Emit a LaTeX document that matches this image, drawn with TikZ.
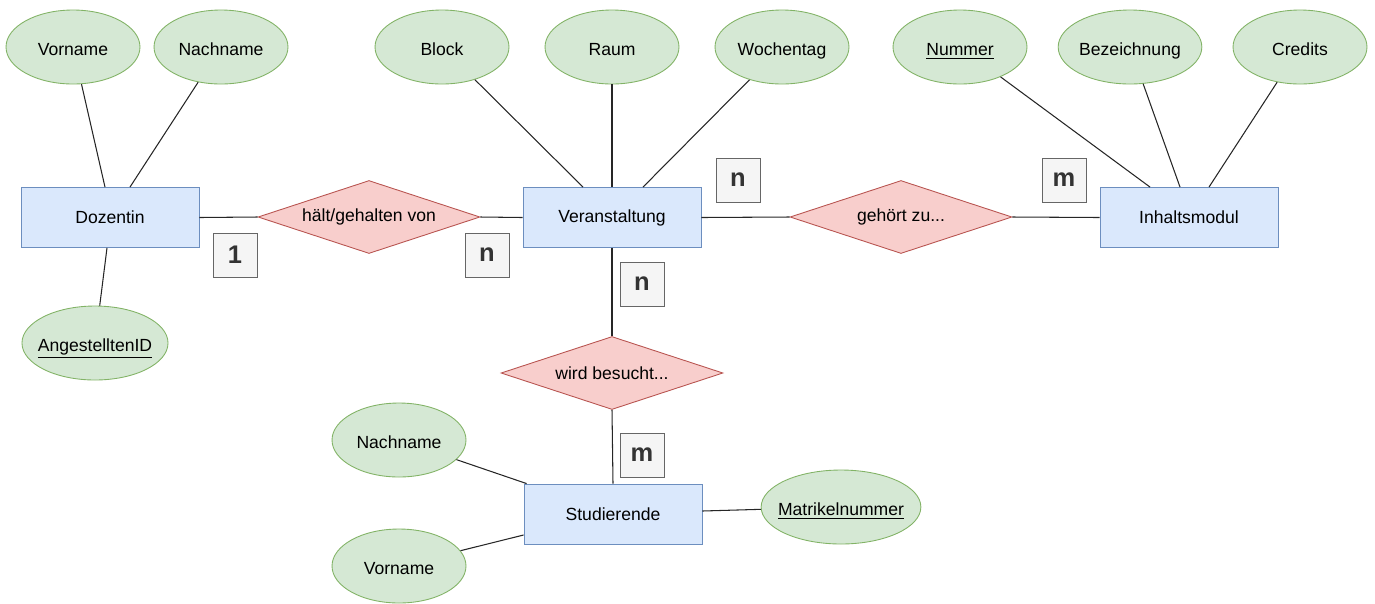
\documentclass[tikz,border=0pt]{standalone}
\usepackage{fontspec}
\setmainfont{Liberation Sans}
\usetikzlibrary{shapes.geometric}

\definecolor{entfill}{HTML}{DAE8FC}
\definecolor{entdraw}{HTML}{6C8EBF}
\definecolor{relfill}{HTML}{F8CECC}
\definecolor{reldraw}{HTML}{B85450}
\definecolor{attfill}{HTML}{D5E8D4}
\definecolor{attdraw}{HTML}{82B366}
\definecolor{cardfill}{HTML}{F5F5F5}
\definecolor{carddraw}{HTML}{666666}
\definecolor{cardtext}{HTML}{333333}

\begin{document}
\begin{tikzpicture}[x=0.02cm, y=-0.02cm,
                font=\fontsize{10}{12}\selectfont,
				entity/.style={draw=entdraw, fill=entfill, rectangle,%
                line width=0.5pt, minimum width=3.56cm, minimum height=1.2cm,
                anchor=center, align=center},
                relation/.style={draw=reldraw, fill=relfill, diamond, aspect=3.04,%
                line width=0.5pt, minimum width=4.44cm, minimum height=1.46cm,
                inner sep=0pt, anchor=center},
    			% attributes and cardinalities
                attrib/.style={draw=attdraw, fill=attfill, ellipse,%
                line width=0.5pt, minimum width=2.68cm, minimum height=1.48cm,
                inner sep=0pt, text height=1em, text depth=0.06em, anchor=center},
                wide attrib/.style={attrib, inner xsep=-0.11cm},
                card/.style={draw=carddraw, fill=cardfill, rectangle, line width=0.5pt,
                minimum size=0.88cm, inner sep=0pt, text=cardtext,
                font=\fontsize{14.5}{16}\selectfont\bfseries},
                link/.style={line width=0.6pt, black!85}
    			]
\useasboundingbox (0,0) rectangle (1375,603);

%% Entities
\node[entity] (dozentin) at (110,217.5) {Dozentin};
\node[entity] (veranst) at (612,217.5) {Veranstaltung};
\node[entity] (modul) at (1189,217.5) {Inhaltsmodul};
\node[entity] (stud) at (613,514) {Studierende};

%% Relations
\node[relation] (haelt) at (369,217) {hält/gehalten von};
\node[relation] (gehoert) at (901,217) {gehört zu...};
\node[relation] (besucht) at (612,373) {wird besucht...};

%% Attributes
\node[attrib] (dvorname) at (73,47) {Vorname};
\node[attrib] (dnachname) at (221,47) {Nachname};
\node[wide attrib] (angid) at (95,343) {\underline{AngestelltenID}};
\node[attrib] (block) at (442,47) {Block};
\node[attrib] (raum) at (612,47) {Raum};
\node[attrib] (wtag) at (782,47) {Wochentag};
\node[attrib] (nummer) at (960,47) {\underline{Nummer}};
\node[attrib] (bez) at (1130,47) {Bezeichnung};
\node[attrib] (credits) at (1300,47) {Credits};
\node[attrib] (snachname) at (399,440) {Nachname};
\node[attrib] (svorname) at (399,566) {Vorname};
\node[wide attrib, inner xsep=-0.13cm] (matrikel) at (841,507) {\underline{Matrikelnummer}};

%% Cardinalities
\node[card] (c1) at (235,255) {1};
\node[card] (c2) at (487,255) {n};
\node[card] (c3) at (738,180) {n};
\node[card] (c4) at (1064,180) {m};
\node[card] (c5) at (642,284) {n};
\node[card] (c6) at (642,455) {m};

%% Relation lines
\draw[link] (dozentin.east)--(haelt.west);
\draw[link] (haelt.east)--(veranst.west);
\draw[link] (veranst.east)--(gehoert.west);
\draw[link] (gehoert.east)--(modul.west);
\draw[link] (veranst.south)--(besucht.north);
\draw[link] (besucht.south)--(stud.north);

%% Attribute lines
\draw[link] (dvorname)--([xshift=-0.1cm]dozentin.north);
\draw[link] (dnachname)--([xshift=0.4cm]dozentin.north);
\draw[link] (angid)--([xshift=-0.06cm]dozentin.south);
\draw[link] (block)--([xshift=-0.58cm]veranst.north);
\draw[link] (raum)--(veranst.north);
\draw[link] (wtag)--([xshift=0.62cm]veranst.north);
\draw[link] (nummer)--([xshift=-0.78cm]modul.north);
\draw[link] (bez)--([xshift=-0.18cm]modul.north);
\draw[link] (credits)--([xshift=0.4cm]modul.north);
\draw[link] (snachname)--([xshift=0.06cm]stud.north west);
\draw[link] (svorname)--([yshift=-0.42cm]stud.west);
\draw[link] ([yshift=0.06cm]stud.east)--(matrikel);

\end{tikzpicture}
\end{document}
